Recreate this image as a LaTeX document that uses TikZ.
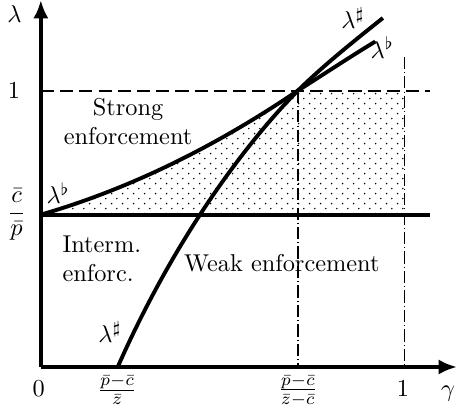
\documentclass[tikz,border=0pt]{standalone}
\usepackage{amsmath}
\usepackage{amssymb}
\usetikzlibrary{arrows.meta,patterns,calc}

% staggered dots for the shaded part
\pgfdeclarepatternformonly{sparse dots}{\pgfqpoint{0pt}{0pt}}{\pgfqpoint{4.4pt}{4.1pt}}{\pgfqpoint{4.4pt}{4.1pt}}{%
    \pgfpathcircle{\pgfqpoint{1.1pt}{1.0pt}}{0.35pt}
    \pgfpathcircle{\pgfqpoint{3.3pt}{3.05pt}}{0.35pt}
    \pgfusepath{fill}
}

\begin{document}
\begin{tikzpicture}[
        axis/.style={-{Latex[length=7.5pt,width=6.2pt]}, line width=1.6pt},
        curve/.style={line width=1.6pt},
        level/.style={line width=0.7pt, dash pattern=on 5.4pt off 2.5pt},
        guide/.style={line width=0.7pt, dash pattern=on 5pt off 1.3pt on 0.4pt off 1.3pt},
        region/.style={align=center, inner sep=0pt}
    ]
    \useasboundingbox (-0.59,-0.69) rectangle (6.01,5.30);

    \coordinate (O) at (0,0);
    \coordinate (xend) at (6.01,0);
    \coordinate (yend) at (0,5.30);
    \coordinate (cp) at (0,2.20);
    \coordinate (cpend) at (5.62,2.20);
    \coordinate (one) at (5.25,0);
    \coordinate (onetop) at (5.25,4.48);
    \coordinate (meet) at (3.71,3.99);
    \coordinate (flatend) at (4.83,4.70);
    \coordinate (sharpstart) at (1.11,0);
    \coordinate (sharpend) at (4.94,5.04);

    % shaded part
    \begin{scope}
        \clip (cp) rectangle (one |- meet);
        \fill[pattern=sparse dots] (cp) .. controls (1.24,2.56) and (2.47,3.15) .. (meet)
            -- (meet -| one) -- (cpend -| one) -- cycle;
    \end{scope}

    \draw[level] (O |- meet) -- (meet -| cpend);
    \draw[guide] (meet) -- (meet |- O);
    \draw[guide] (onetop) -- (one);

    % the two curves
    \draw[curve] (cp) .. controls (1.24,2.56) and (2.47,3.15) .. (meet)
        .. controls (4.09,4.23) and (4.45,4.47) .. (flatend);
    \draw[curve] (sharpstart) .. controls (1.91,1.81) and (2.92,3.19) .. (meet)
        .. controls (4.12,4.39) and (4.54,4.72) .. (sharpend);
    \draw[curve] (cp) -- (cpend);

    \draw[axis] (O) -- (xend);
    \draw[axis] (O) -- (yend);

    % labels
    \node (lam) at (-0.38,5.09) {$\lambda$};
    \node (gam) [anchor=base] at (5.88,-0.43) {$\gamma$};
    \node (zero) [anchor=base] at (-0.03,-0.43) {$0$};
    \node (xone) [anchor=base] at (5.23,-0.43) {$1$};
    \node (yone) at ($(O |- meet)+(-0.39,0)$) {$1$};
    \node (ratio) at (-0.35,2.20) {$\dfrac{\bar c}{\bar p}$};
    \node (root) at (1.10,-0.33) {$\frac{\bar p-\bar c}{\bar z}$};
    \node (gstar) at ($(meet |- O)+(0,-0.34)$) {$\frac{\bar p-\bar c}{\bar z-\bar c}$};

    \node (sharptop) at (4.51,5.04) {$\lambda^\sharp$};
    \node (flattop) at (4.93,4.61) {$\lambda^\flat$};
    \node (flatlow) at (0.25,2.51) {$\lambda^\flat$};
    \node (sharplow) at (1.00,0.51) {$\lambda^\sharp$};

    \node[region] (strong) at (1.26,3.54) {Strong\\enforcement};
    \node[region, align=left] (interm) at (0.88,1.56) {Interm.\\enforc.};
    \node (weak) at (3.48,1.50) {Weak enforcement};
\end{tikzpicture}
\end{document}
